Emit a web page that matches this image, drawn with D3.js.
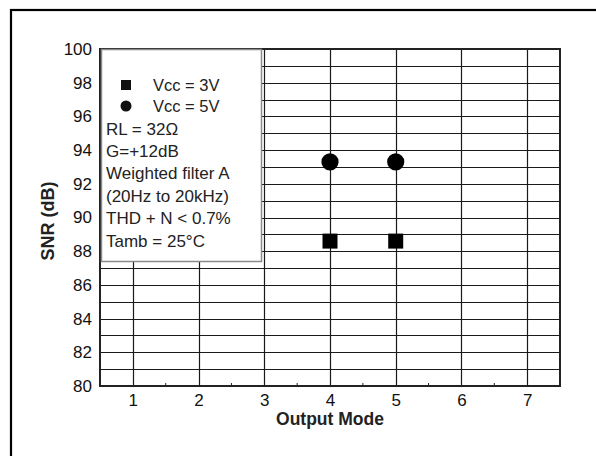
<!DOCTYPE html>
<html>
<head>
<meta charset="utf-8">
<script src="https://cdn.jsdelivr.net/npm/d3@7"></script>
<style>
  body { margin: 0; background: #fff; }
  text { font-family: "Liberation Sans", Arial, sans-serif; }
</style>
</head>
<body>
<script>
// SNR vs output mode, two supply voltages
const modes = [4, 5];
const snr3V = [88.6, 88.6];
const snr5V = [93.3, 93.3];
const xTicks = [1, 2, 3, 4, 5, 6, 7];
const yTicks = [80, 82, 84, 86, 88, 90, 92, 94, 96, 98, 100];
const legendLines = ["RL = 32\u03A9", "G=+12dB", "Weighted filter A", "(20Hz to 20kHz)", "THD + N < 0.7%", "Tamb = 25\u00B0C"];

const width = 596;
const height = 456;
const margin = { left: 100, top: 49, right: 36, bottom: 70 };

const svg = d3.select('body').append('svg')
    .attr('width', width)
    .attr('height', height);

// outer frame (runs off the right and bottom edges)
svg.append('rect')
    .attr('x', 11).attr('y', 10)
    .attr('width', 620).attr('height', 480)
    .attr('fill', 'none')
    .attr('stroke', '#000')
    .attr('stroke-width', 2.2);

const x = d3.scaleLinear().domain([0.5, 7.5]).range([margin.left, width - margin.right]);
const y = d3.scaleLinear().domain([80, 100]).range([height - margin.bottom, margin.top]);

const g = svg.append('g');

// grid: every mode and every dB
g.append('g').selectAll('line')
    .data(d3.range(81, 100))
    .enter().append('line')
    .attr('x1', x(0.5)).attr('x2', x(7.5))
    .attr('y1', d => Math.round(y(d)) + 0.5)
    .attr('y2', d => Math.round(y(d)) + 0.5)
    .attr('stroke', '#1a1a1a')
    .attr('stroke-width', 1.2);

g.append('g').selectAll('line')
    .data(xTicks)
    .enter().append('line')
    .attr('x1', d => Math.round(x(d)) + 0.5)
    .attr('x2', d => Math.round(x(d)) + 0.5)
    .attr('y1', y(80)).attr('y2', y(100))
    .attr('stroke', '#1a1a1a')
    .attr('stroke-width', 1.2);

// axes
const xAxis = g.append('g')
    .attr('transform', 'translate(0,' + y(80) + ')')
    .call(d3.axisBottom(x).tickValues(xTicks).tickSize(0).tickPadding(8).tickFormat(d3.format('d')));
const yAxis = g.append('g')
    .attr('transform', 'translate(' + x(0.5) + ',0)')
    .call(d3.axisLeft(y).tickValues(yTicks).tickSize(0).tickPadding(8).tickFormat(d3.format('d')));
[xAxis, yAxis].forEach(a => {
    a.select('.domain').remove();
    a.selectAll('text').attr('font-size', 17).attr('fill', '#111')
        .style('font-family', '"Liberation Sans", Arial, sans-serif');
});

// minor ticks at the half modes
g.append('g').selectAll('line')
    .data([1.5, 2.5, 3.5, 4.5, 5.5, 6.5])
    .enter().append('line')
    .attr('x1', d => x(d)).attr('x2', d => x(d))
    .attr('y1', y(80)).attr('y2', y(80) - 3)
    .attr('stroke', '#222');

// plot frame
g.append('rect')
    .attr('x', x(0.5)).attr('y', y(100))
    .attr('width', x(7.5) - x(0.5))
    .attr('height', y(80) - y(100))
    .attr('fill', 'none')
    .attr('stroke', '#222')
    .attr('stroke-width', 2);

// axis titles
svg.append('text')
    .attr('x', 330)
    .attr('y', 425)
    .attr('text-anchor', 'middle')
    .attr('font-size', 17.5).attr('font-weight', 'bold').attr('fill', '#222')
    .text('Output Mode');

svg.append('text')
    .attr('transform', 'translate(54,221) rotate(-90)')
    .attr('text-anchor', 'middle')
    .attr('font-size', 18).attr('font-weight', 'bold').attr('fill', '#222')
    .text('SNR (dB)');

// legend box
const lg = svg.append('g');
lg.append('rect')
    .attr('x', 101.5).attr('y', 49.5)
    .attr('width', 160).attr('height', 212)
    .attr('fill', '#fff')
    .attr('stroke', '#8a8a8a')
    .attr('stroke-width', 1.5);
lg.append('rect')
    .attr('x', 121).attr('y', 80).attr('width', 10).attr('height', 10)
    .attr('fill', '#111');
lg.append('text').attr('x', 153).attr('y', 90.5).attr('font-size', 16.5).attr('fill', '#222').text('Vcc = 3V');
lg.append('circle')
    .attr('cx', 126).attr('cy', 106).attr('r', 5.5)
    .attr('fill', '#111');
lg.append('text').attr('x', 153).attr('y', 112).attr('font-size', 16.5).attr('fill', '#222').text('Vcc = 5V');
lg.selectAll('text.info')
    .data(legendLines)
    .enter().append('text')
    .attr('class', 'info')
    .attr('x', 106)
    .attr('y', (d, i) => 134.5 + i * 22.4)
    .attr('font-size', 17).attr('fill', '#222')
    .text(d => d);

// data markers
g.append('g').selectAll('rect')
    .data(modes.map((m, i) => ({ m: m, v: snr3V[i] })))
    .enter().append('rect')
    .attr('x', d => x(d.m) - 7.5)
    .attr('y', d => y(d.v) - 7.5)
    .attr('width', 15).attr('height', 15)
    .attr('fill', '#000');

g.append('g').selectAll('circle')
    .data(modes.map((m, i) => ({ m: m, v: snr5V[i] })))
    .enter().append('circle')
    .attr('cx', d => x(d.m))
    .attr('cy', d => y(d.v))
    .attr('r', 8.6)
    .attr('fill', '#000');
</script>
</body>
</html>
